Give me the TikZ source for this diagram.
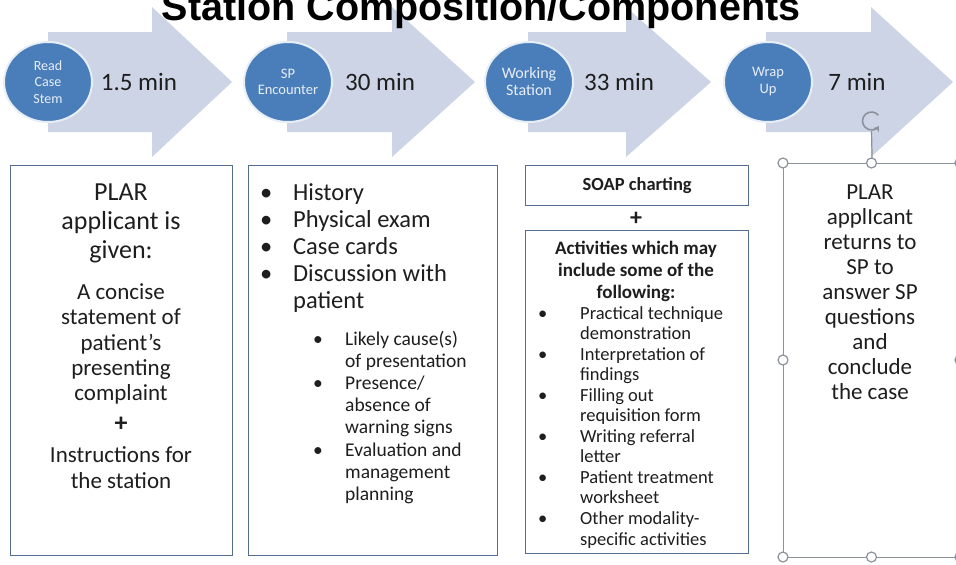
\documentclass[tikz,border=0pt]{standalone}
\usepackage{fontspec}
\setmainfont{Carlito}
\newfontfamily\titlefont{Liberation Sans}
\usetikzlibrary{shapes.geometric,arrows.meta}
\definecolor{arrowfill}{RGB}{204,212,230}
\definecolor{circfill}{RGB}{74,126,187}
\definecolor{circedge}{RGB}{232,238,246}
\definecolor{boxedge}{RGB}{84,110,145}
\definecolor{selgray}{RGB}{140,146,155}
\definecolor{circtext}{RGB}{232,238,246}
\definecolor{txt}{RGB}{30,30,30}
\newcommand\fs[2]{\fontsize{#1}{#2}\selectfont}
\begin{document}
\begin{tikzpicture}[x=1pt,y=-1pt,
  circ/.style={ellipse,minimum width=88pt,minimum height=80pt,inner sep=0pt,
    fill=circfill,draw=circedge,line width=2pt,text=circtext,align=center},
  timelbl/.style={font=\fs{25}{30},text=txt,inner sep=0pt},
  bluebox/.style={draw=boxedge,line width=1.4pt,fill=white,inner sep=0pt,anchor=north west},
  selbox/.style={draw=selgray,line width=1.4pt,fill=white,inner sep=0pt,anchor=north west},
  handle/.style={circle,draw=selgray,fill=white,line width=1.2pt,minimum size=10pt,inner sep=0pt},
  txtc/.style={anchor=base,align=center,inner sep=0pt,text=txt},
  txtl/.style={anchor=base west,inner sep=0pt,text=txt}]
\useasboundingbox (0,0) rectangle (956,565);
\fill[white] (0,0) rectangle (956,565);
% block arrows
\foreach \L/\H/\T in {48/152/232, 287/392/475, 528/626/711, 766/871/953}
  \fill[arrowfill] (\L,32) -- (\H,32) -- (\H,7) -- (\T,82) -- (\H,157) -- (\H,132) -- (\L,132) -- cycle;
% title
\node[anchor=base,inner sep=0pt,font=\titlefont\bfseries\fs{39.5}{44},text=black] (title) at (481,20) {Station Composition/Components};
% circles
\node[circ,font=\fs{14}{16.5}] (c1) at (48,82) {Read\\Case\\Stem};
\node[circ,font=\fs{14.5}{16}] (c2) at (288,82) {SP\\Encounter};
\node[circ,font=\fs{16}{17}] (c3) at (529,82) {Working\\Station};
\node[circ,font=\fs{14.5}{17}] (c4) at (768,82) {Wrap\\Up};
% times
\node[timelbl] (t1) at (139,82) {1.5 min};
\node[timelbl] (t2) at (380,82) {30 min};
\node[timelbl] (t3) at (619,82) {33 min};
\node[timelbl] (t4) at (857,82) {7 min};
% box 1
\node[bluebox,minimum width=222pt,minimum height=390pt] (box1) at (10,165) {};
\node[txtc,font=\fs{26}{29}] (b1a) at (121,258.6) {PLAR\\applicant is\\given:};
\node[txtc,font=\fs{23}{25.25}] (b1b) at (121,400.6) {A concise\\statement of\\patient’s\\presenting\\complaint};
\node[inner sep=0pt,font=\bfseries\fs{26}{28},text=txt] (b1p) at (121,424) {+};
\node[txtc,font=\fs{23}{26}] (b1c) at (121,488.6) {Instructions for\\the station};
% box 2
\node[bluebox,minimum width=249pt,minimum height=390pt] (box2) at (248,165) {};
\node[txtl,font=\fs{24.5}{27}] (b2a) at (260,200) {\begin{tabular}[t]{@{}p{33pt}@{}l@{}}
•&History\\ •&Physical exam\\ •&Case cards\\ •&Discussion with\\ &patient\end{tabular}};
\node[txtl,font=\fs{19.5}{22.1}] (b2b) at (313,345.5) {\begin{tabular}[t]{@{}p{32pt}@{}l@{}}
•&Likely cause(s)\\ &of presentation\\ •&Presence/\\ &absence of\\ &warning signs\\
•&Evaluation and\\ &management\\ &planning\end{tabular}};
% box 3
\node[bluebox,minimum width=223pt,minimum height=40pt] (box3a) at (525,165) {};
\node[inner sep=0pt,font=\bfseries\fs{18.5}{22},text=txt] (soap) at (box3a.center) {SOAP charting};
\node[inner sep=0pt,font=\bfseries\fs{24}{26},text=txt] (b3p) at (636,219) {+};
\node[bluebox,minimum width=223pt,minimum height=323pt] (box3b) at (525,230) {};
\node[txtc,font=\bfseries\fs{19}{22}] (b3h) at (636,298.3) {Activities which may\\include some of the\\following:};
\node[txtl,font=\fs{18.5}{20.55}] (b3l) at (538,319) {\begin{tabular}[t]{@{}p{42pt}@{}l@{}}
•&Practical technique\\ &demonstration\\ •&Interpretation of\\ &findings\\
•&Filling out\\ &requisition form\\ •&Writing referral\\ &letter\\
•&Patient treatment\\ &worksheet\\ •&Other modality-\\ &specific activities\end{tabular}};
% box 4 (selected text box)
\node[selbox,minimum width=177pt,minimum height=394pt] (box4) at (783,163) {};
\node[txtc,font=\fs{23}{25}] (b4) at (870,399.6) {PLAR\\applIcant\\returns to\\SP to\\answer SP\\questions\\and\\conclude\\the case};
% rotation handle
\coordinate (rot) at (871.5,121);
\coordinate (rotb) at (871.5,131);
\draw[selgray,line width=1.2pt] (rotb) -- (box4.north);
\draw[selgray,line width=1.6pt,-{Stealth[length=5pt,width=7pt]}] (rot) ++(-40:9) arc[start angle=-40,end angle=-325,radius=9];
% sizing handles
\foreach \hx/\hy [count=\i] in {783/163, 871.5/163, 960/163, 783/360, 960/360, 783/557, 871.5/557, 960/557}
  \node[handle] (h\i) at (\hx,\hy) {};
\end{tikzpicture}
\end{document}
